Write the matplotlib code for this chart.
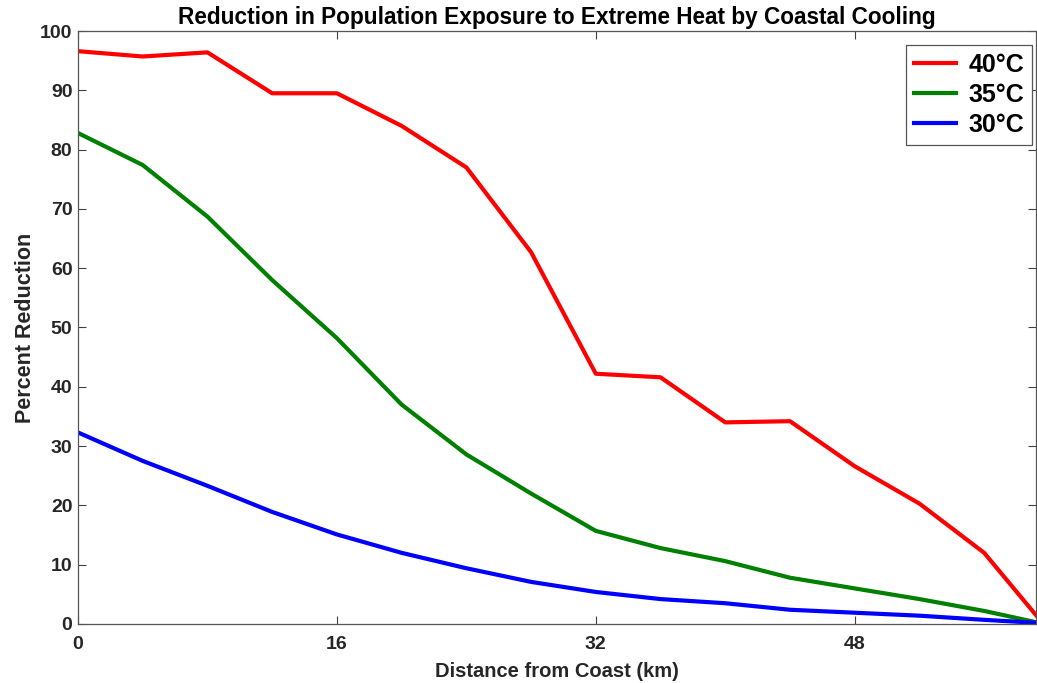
import matplotlib
matplotlib.use('Agg')
import matplotlib.pyplot as plt

# distance from coast (km)
distance = [0, 4, 8, 12, 16, 20, 24, 28, 32, 36, 40, 44, 48, 52, 56, 59.2]

# percent reduction for each threshold
red_40 = [96.6, 95.7, 96.4, 89.5, 89.5, 84.0, 77.0, 62.7, 42.2, 41.6, 34.0, 34.2, 26.6, 20.3, 12.0, 1.5]
green_35 = [82.8, 77.4, 68.7, 58.0, 48.2, 37.0, 28.6, 22.0, 15.7, 12.8, 10.6, 7.8, 6.0, 4.2, 2.2, 0.3]
blue_30 = [32.3, 27.5, 23.3, 18.9, 15.1, 12.0, 9.4, 7.1, 5.4, 4.2, 3.5, 2.4, 1.9, 1.4, 0.7, 0.2]

series_labels = ['40°C', '35°C', '30°C']
x_ticks = [0, 16, 32, 48]

plt.rcParams['font.family'] = ['Liberation Sans', 'DejaVu Sans']
plt.rcParams['font.weight'] = 'bold'

fig = plt.figure(figsize=(10.37, 6.83), dpi=100)
ax = fig.add_axes([0.0752, 0.0864, 0.9238, 0.8682])

ax.plot(distance, red_40, color='#ff0000', lw=3, label=series_labels[0])
ax.plot(distance, green_35, color='#008000', lw=3, label=series_labels[1])
ax.plot(distance, blue_30, color='#0000ff', lw=3, label=series_labels[2])

ax.set_xlim(0, distance[-1])
ax.set_ylim(0, 100)
ax.set_xticks(x_ticks)
ax.set_yticks(range(0, 101, 10))
ax.tick_params(direction='in', top=True, right=True, length=6, width=0.8,
               color='#404040', labelsize=14, labelcolor='#262626')
ax.tick_params(axis='x', pad=9)
ax.tick_params(axis='y', pad=4)
for lab in ax.get_xticklabels() + ax.get_yticklabels():
    lab.set_fontweight('bold')
for sp in ax.spines.values():
    sp.set_color('#555555')
    sp.set_linewidth(0.9)

ax.set_title('Reduction in Population Exposure to Extreme Heat by Coastal Cooling',
             fontsize=16.3, fontweight='bold', pad=5)
ax.set_xlabel('Distance from Coast (km)', fontsize=14.5, fontweight='bold', color='#262626', labelpad=6)
ax.set_ylabel('Percent Reduction', fontsize=15.5, fontweight='bold', color='#262626', labelpad=3)

leg = ax.legend(loc='upper right', bbox_to_anchor=(0.9958, 0.9764), borderaxespad=0,
                prop={'size': 18, 'weight': 'bold'}, fancybox=False,
                framealpha=1, edgecolor='#555555', handlelength=1.7, handletextpad=0.5,
                labelspacing=0.25, borderpad=0.3)
leg.get_frame().set_linewidth(0.9)

plt.savefig('out.png', dpi=100)
